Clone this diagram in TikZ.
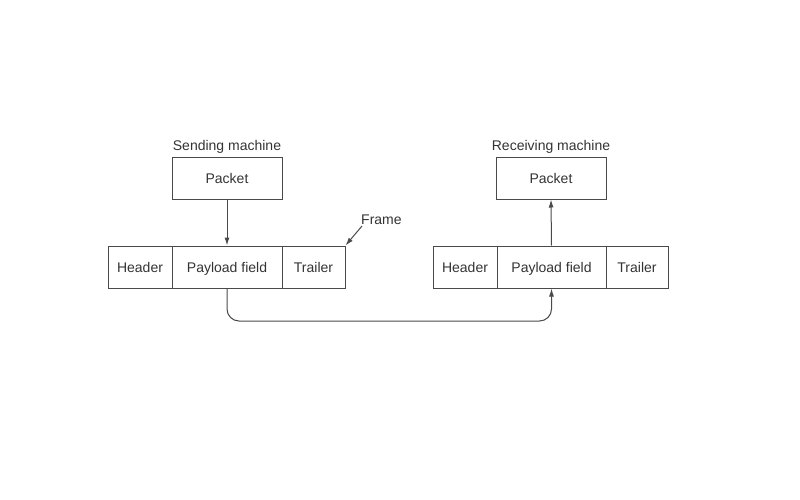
\documentclass[tikz,border=0pt]{standalone}
\usepackage{fontspec}
\setmainfont{Liberation Sans}
\usetikzlibrary{arrows.meta}
\definecolor{linec}{HTML}{4A4A4A}
\definecolor{textc}{HTML}{333333}
\begin{document}
\begin{tikzpicture}[x=1pt,y=-1pt,
  box/.style={draw=linec,line width=1pt,rectangle,minimum height=42pt,inner sep=0pt,text=textc,text height=10pt,text depth=0pt,font=\fontsize{14pt}{16pt}\selectfont},
  lbl/.style={text=textc,inner sep=0pt,text height=10pt,text depth=0pt,font=\fontsize{14pt}{16pt}\selectfont},
  conn/.style={draw=linec,line width=1pt,-{Latex[length=8pt,width=5pt]}}]
\useasboundingbox (0,0) rectangle (800,500);
% left frame
\node[box,minimum width=64pt] (lh) at (140,267) {Header};
\node[box,minimum width=110pt] (lp) at (227,267) {Payload field};
\node[box,minimum width=63pt] (lt) at (313.5,267) {Trailer};
% right frame
\node[box,minimum width=64pt] (rh) at (465,267) {Header};
\node[box,minimum width=109pt] (rp) at (551.5,267) {Payload field};
\node[box,minimum width=62pt] (rt) at (637,267) {Trailer};
% packets
\node[box,minimum width=110pt] (spk) at (227,178) {Packet};
\node[box,minimum width=110pt] (rpk) at (551,178) {Packet};
\node[lbl] (sm) at (227,145) {Sending machine};
\node[lbl] (rm) at (551,145) {Receiving machine};
\node[lbl,anchor=west] (fr) at (361,219) {Frame};
\coordinate (frs) at (362,226);
% connectors
\draw[conn] (spk.south) -- (lp.north);
\draw[conn] (rp.north) -- (rpk.south);
\draw[conn] (frs) -- (lt.north east);
\draw[conn,rounded corners=12pt] (lp.south) -- (lp.south |- 0,321) -- (rp.south |- 0,321) -- (rp.south);
\end{tikzpicture}
\end{document}
